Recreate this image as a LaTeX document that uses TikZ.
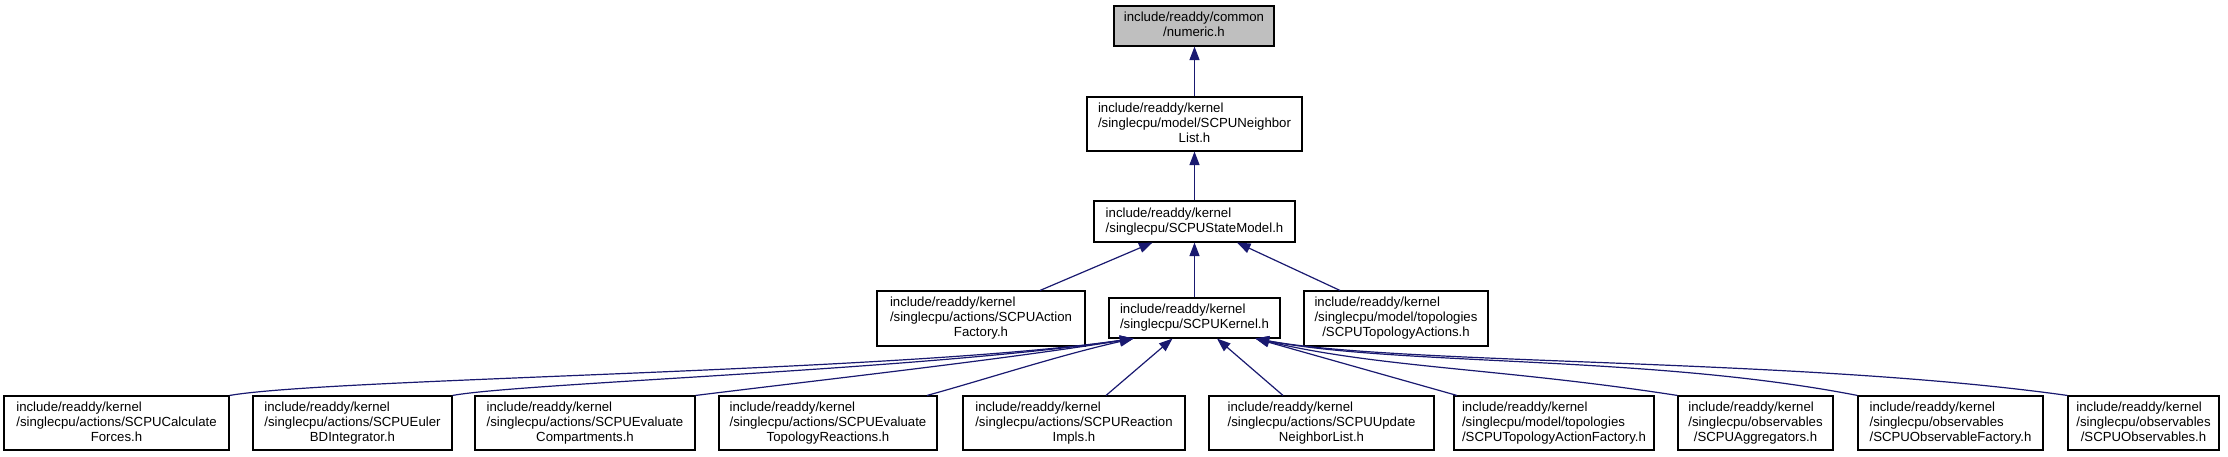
\documentclass[tikz,border=0pt]{standalone}
\usepackage{fontspec}
\setmainfont{Liberation Sans}
\usetikzlibrary{arrows.meta}
\definecolor{edgecol}{HTML}{191970}
\definecolor{greyfill}{HTML}{BFBFBF}
\newcommand\twol[2]{\begin{tabular}{@{}l@{}}#1\\\multicolumn{1}{@{}c@{}}{#2}\end{tabular}}
\newcommand\threel[3]{\begin{tabular}{@{}l@{}}#1\\#2\\\multicolumn{1}{@{}c@{}}{#3}\end{tabular}}
\begin{document}
\begin{tikzpicture}[x=1pt,y=-1pt,
  box/.style={draw=black, line width=1.1pt, fill=white, inner sep=0pt,
    font=\fontsize{13.2}{15}\selectfont},
  edge/.style={draw=edgecol, line width=1.2pt, -{Triangle[length=13.5pt,width=10pt]}}]
\fill[white] (0,0) rectangle (2228,456);
\useasboundingbox (0,0) rectangle (2228,456);
% nodes
\node[box, fill=greyfill, minimum width=160pt, minimum height=40pt] (num) at (1194,26) {\twol{include/readdy/common}{/numeric.h}};
\node[box, minimum width=215pt, minimum height=54pt] (nbl) at (1194.5,124) {\threel{include/readdy/kernel}{/singlecpu/model/SCPUNeighbor}{List.h}};
\node[box, minimum width=201pt, minimum height=41pt] (sm) at (1194.5,221.5) {\twol{include/readdy/kernel}{/singlecpu/SCPUStateModel.h}};
\node[box, minimum width=208pt, minimum height=55pt] (af) at (981,318.5) {\threel{include/readdy/kernel}{/singlecpu/actions/SCPUAction}{Factory.h}};
\node[box, minimum width=171pt, minimum height=40pt] (kern) at (1194.5,318) {\twol{include/readdy/kernel}{/singlecpu/SCPUKernel.h}};
\node[box, minimum width=184pt, minimum height=55pt] (ta) at (1396,318.5) {\threel{include/readdy/kernel}{/singlecpu/model/topologies}{/SCPUTopologyActions.h}};
% bottom row
\node[box, minimum width=225pt, minimum height=54pt] (forces) at (116.5,423) {\threel{include/readdy/kernel}{/singlecpu/actions/SCPUCalculate}{Forces.h}};
\node[box, minimum width=199pt, minimum height=54pt] (euler) at (352.5,423) {\threel{include/readdy/kernel}{/singlecpu/actions/SCPUEuler}{BDIntegrator.h}};
\node[box, minimum width=220pt, minimum height=54pt] (comp) at (585,423) {\threel{include/readdy/kernel}{/singlecpu/actions/SCPUEvaluate}{Compartments.h}};
\node[box, minimum width=218pt, minimum height=54pt] (topreac) at (828,423) {\threel{include/readdy/kernel}{/singlecpu/actions/SCPUEvaluate}{TopologyReactions.h}};
\node[box, minimum width=222pt, minimum height=54pt] (rimpl) at (1074,423) {\threel{include/readdy/kernel}{/singlecpu/actions/SCPUReaction}{Impls.h}};
\node[box, minimum width=225pt, minimum height=54pt] (upd) at (1321.5,423) {\threel{include/readdy/kernel}{/singlecpu/actions/SCPUUpdate}{NeighborList.h}};
\node[box, minimum width=200pt, minimum height=54pt] (taf) at (1554,423) {\threel{include/readdy/kernel}{/singlecpu/model/topologies}{/SCPUTopologyActionFactory.h}};
\node[box, minimum width=155pt, minimum height=54pt] (agg) at (1755.5,423) {\threel{include/readdy/kernel}{/singlecpu/observables}{/SCPUAggregators.h}};
\node[box, minimum width=185pt, minimum height=54pt] (obsf) at (1950.5,423) {\threel{include/readdy/kernel}{/singlecpu/observables}{/SCPUObservableFactory.h}};
\node[box, minimum width=151pt, minimum height=54pt] (obs) at (2143.5,423) {\threel{include/readdy/kernel}{/singlecpu/observables}{/SCPUObservables.h}};
% edges upper part
\draw[edge] (nbl.north) -- (nbl.north |- num.south);
\draw[edge] (sm.north) -- (sm.north |- nbl.south);
\draw[edge] (kern.north) -- (kern.north |- sm.south);
\draw[edge] ([xshift=59pt]af.north) -- ([xshift=-42pt]sm.south);
\draw[edge] ([xshift=-56pt]ta.north) -- ([xshift=42.5pt]sm.south);
% edges to kernel
\coordinate (kl) at ([xshift=-61pt]kern.south);
\coordinate (kr) at ([xshift=61pt]kern.south);
\draw[edge] (forces.north east) .. controls (330,378) and (900,372) .. (kl);
\draw[edge] (euler.north east) .. controls (520,383) and (920,370) .. (kl);
\draw[edge] (comp.north east) .. controls (820,380) and (1000,360) .. (kl);
\draw[edge] ([xshift=99pt]topreac.north) .. controls (990,378) and (1060,355) .. (kl);
\draw[edge] ([xshift=32pt]rimpl.north) -- ([xshift=-22pt]kern.south);
\draw[edge] ([xshift=-38.5pt]upd.north) -- ([xshift=22.5pt]kern.south);
\draw[edge] ([xshift=-97pt]taf.north) -- (kr);
\draw[edge] (agg.north west) .. controls (1500,368) and (1380,368) .. (kr);
\draw[edge] (obsf.north west) .. controls (1650,355) and (1400,366) .. (kr);
\draw[edge] (obs.north west) .. controls (1800,358) and (1400,365) .. (kr);
\end{tikzpicture}
\end{document}
